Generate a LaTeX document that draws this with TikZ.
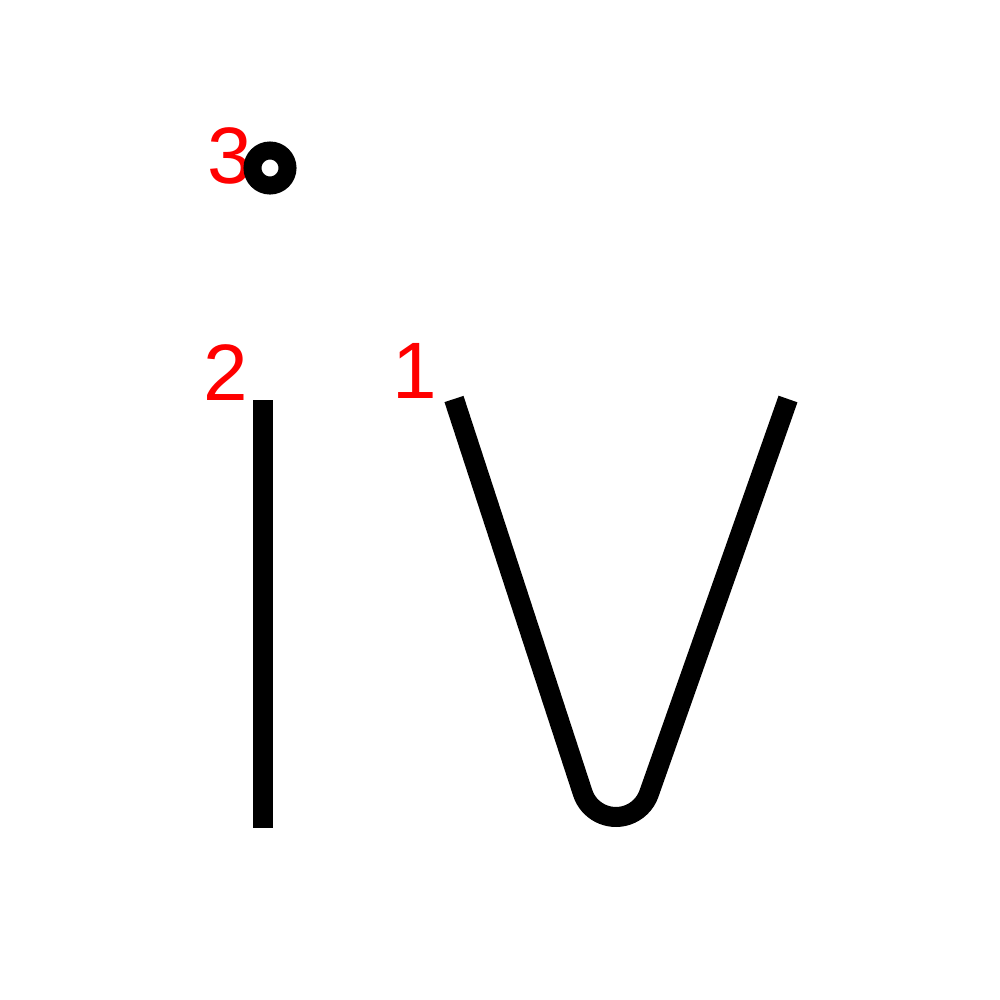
\documentclass[tikz,border=0pt]{standalone}
\usepackage{fontspec}
\setmainfont{Liberation Sans}
\begin{document}
\begin{tikzpicture}[x=0.01cm,y=-0.01cm,
  stroke/.style={line width=0.2cm,black},
  num/.style={text=red,inner sep=0pt,anchor=base west,font=\fontsize{22.76}{27}\selectfont}]
\fill[white] (0,0) rectangle (1000,1000);
\useasboundingbox (0,0) rectangle (1000,1000);
% labels
\node[num] (n3) at (207,183) {3};
\node[num] (n2) at (203,400) {2};
\node[num] (n1) at (392,398) {1};
% stroke 1: V
\coordinate (v1) at (454,399);
\coordinate (tl) at (582.7,792.9);
\coordinate (v2) at (788,399);
\draw[stroke] (v1) -- (tl) arc[start angle=161.8,end angle=19.3,radius=35] -- (v2);
% stroke 2: vertical
\coordinate (i1) at (263,400);
\coordinate (i2) at (263,828);
\draw[stroke] (i1) -- (i2);
% stroke 3: dot
\coordinate (dot) at (270,168);
\draw[black,line width=0.18cm] (dot) circle (17.5);
\end{tikzpicture}
\end{document}
